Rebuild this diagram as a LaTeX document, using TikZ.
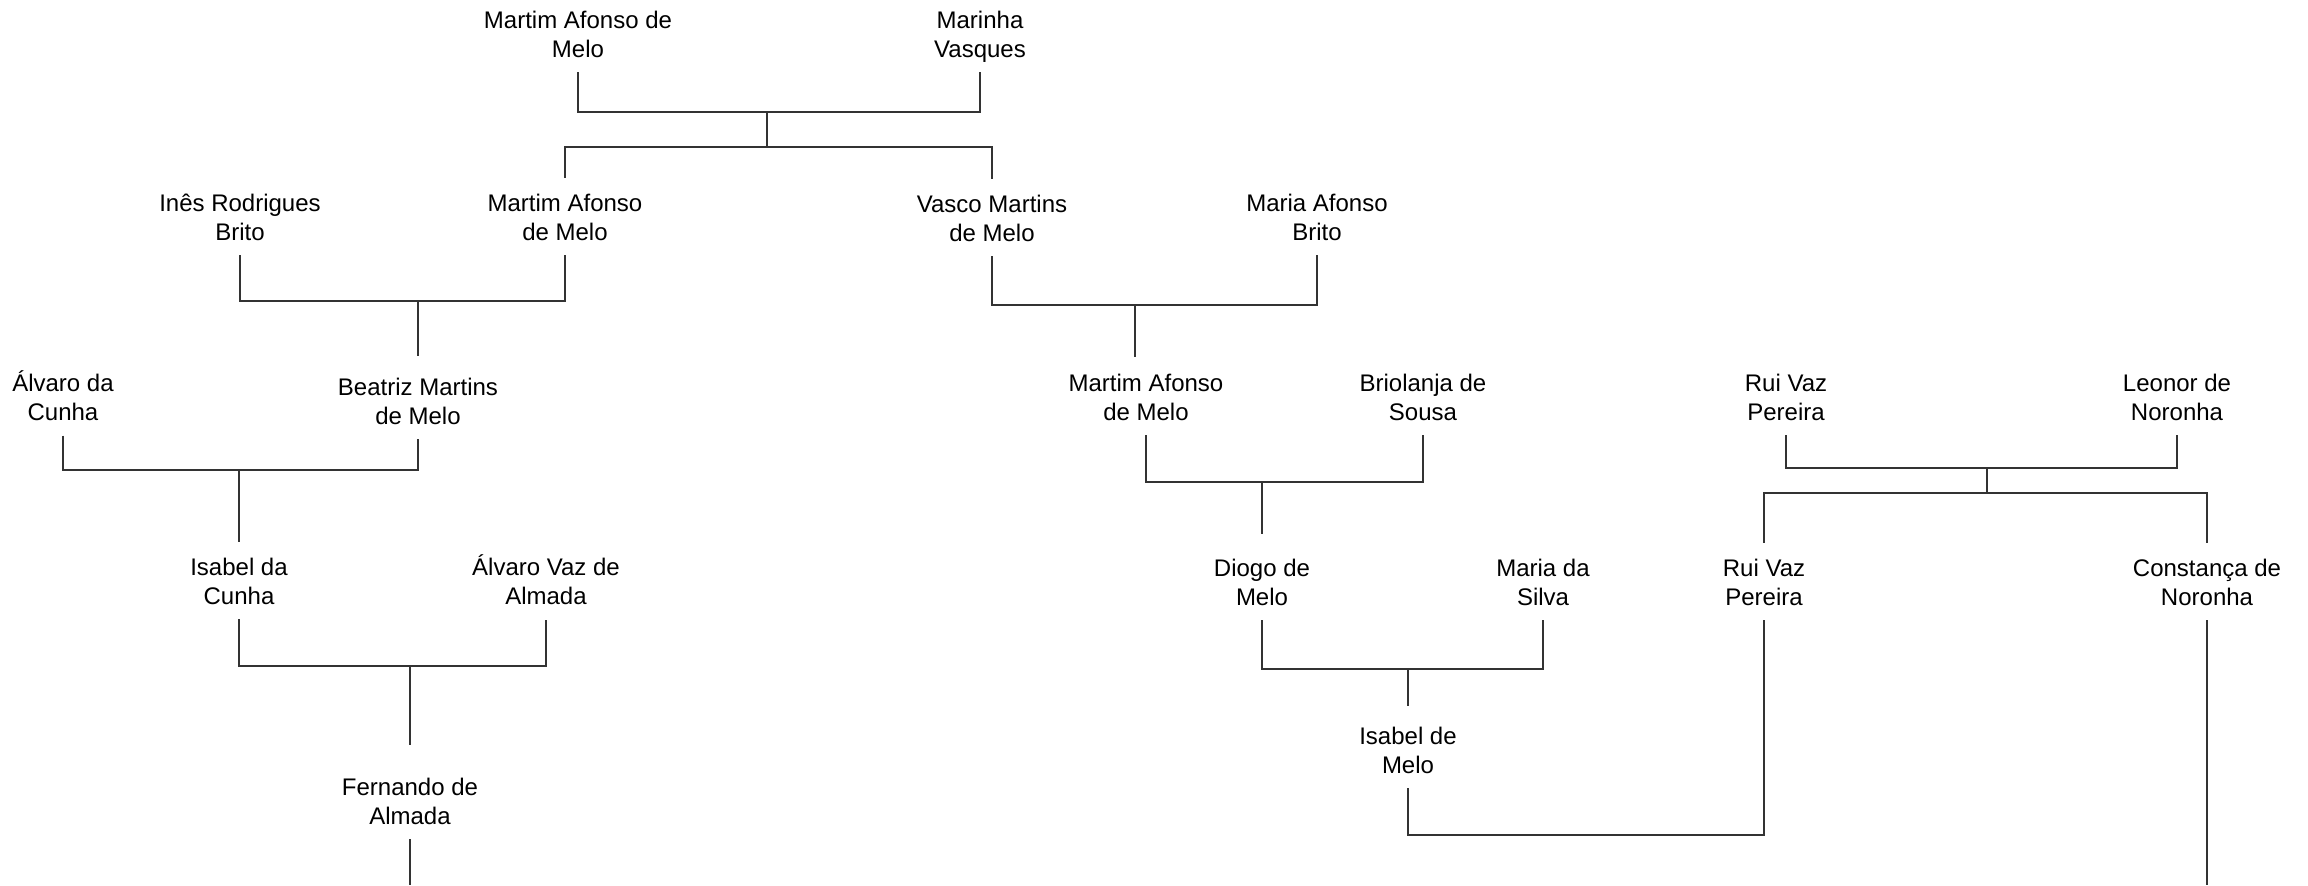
\documentclass[tikz,border=0pt]{standalone}
\usepackage{fontspec}
\setmainfont{Liberation Sans}
\newcommand\twol[2]{\strut #1\\#2\strut}
\begin{document}
\begin{tikzpicture}[x=0.5pt,y=-0.5pt,
  person/.style={align=center,inner sep=0pt,font=\fontsize{12}{14.4}\selectfont},
  link/.style={line width=0.65pt,black!80},
  cpl/.style={link,shorten <=3pt,shorten >=3pt}]
\path[use as bounding box,fill=white] (0,0) rectangle (2308,885);
% people
\node[person] (n1) at (578,37) {\twol{Martim Afonso de}{Melo}};
\node[person] (n2) at (980,37) {\twol{Marinha}{Vasques}};
\node[person] (n3) at (240,220) {\twol{Inês Rodrigues}{Brito}};
\node[person] (n4) at (565,220) {\twol{Martim Afonso}{de Melo}};
\node[person] (n5) at (992,221) {\twol{Vasco Martins}{de Melo}};
\node[person] (n6) at (1317,220) {\twol{Maria Afonso}{Brito}};
\node[person] (n7) at (63,400) {\twol{Álvaro da}{Cunha}};
\node[person] (n8) at (418,404) {\twol{Beatriz Martins}{de Melo}};
\node[person] (n9) at (1146,400) {\twol{Martim Afonso}{de Melo}};
\node[person] (n10) at (1423,400) {\twol{Briolanja de}{Sousa}};
\node[person] (n11) at (1786,400) {\twol{Rui Vaz}{Pereira}};
\node[person] (n12) at (2177,400) {\twol{Leonor de}{Noronha}};
\node[person] (n13) at (239,584) {\twol{Isabel da}{Cunha}};
\node[person] (n14) at (546,584) {\twol{Álvaro Vaz de}{Almada}};
\node[person] (n15) at (1262,585) {\twol{Diogo de}{Melo}};
\node[person] (n16) at (1543,585) {\twol{Maria da}{Silva}};
\node[person] (n17) at (1764,585) {\twol{Rui Vaz}{Pereira}};
\node[person] (n18) at (2207,585) {\twol{Constança de}{Noronha}};
\node[person] (n19) at (410,804) {\twol{Fernando de}{Almada}};
\node[person] (n20) at (1408,753) {\twol{Isabel de}{Melo}};
% junctions
\coordinate (h1) at (767,112);
\coordinate (h1b) at (767,147);
\coordinate (h2) at (418,301);
\coordinate (h3) at (1135,305);
\coordinate (h4) at (239,470);
\coordinate (h5) at (1262,482);
\coordinate (h6) at (1987,468);
\coordinate (h6b) at (1987,493);
\coordinate (h7) at (410,666);
\coordinate (h8) at (1408,669);
\coordinate (h9) at (1586,835);
\coordinate (e1) at (410,885);
\coordinate (e2) at (2207,885);
% couple 1
\draw[cpl] (n1.south) |- (h1) -| (n2.south);
\draw[link] (h1) -- (h1b);
\draw[link,shorten <=6.5pt,shorten >=6.5pt] (n4.north) |- (h1b) -| (n5.north);
% couple 2
\draw[cpl] (n3.south) |- (h2) -| (n4.south);
\draw[link,shorten >=9.5pt] (h2) -- (n8.north);
% couple 3
\draw[cpl] (n5.south) |- (h3) -| (n6.south);
\draw[link,shorten >=7pt] (h3) -- (h3 |- n9.north);
% couple 4
\draw[cpl] (n7.south) |- (h4) -| (n8.south);
\draw[link,shorten >=6.5pt] (h4) -- (n13.north);
% couple 5
\draw[cpl] (n9.south) |- (h5) -| (n10.south);
\draw[link,shorten >=11pt] (h5) -- (n15.north);
% couple 6
\draw[cpl] (n11.south) |- (h6) -| (n12.south);
\draw[link] (h6) -- (h6b);
\draw[link,shorten <=6.5pt,shorten >=6.5pt] (n17.north) |- (h6b) -| (n18.north);
% couple 7
\draw[cpl] (n13.south) |- (h7) -| (n14.south);
\draw[link,shorten >=15pt] (h7) -- (n19.north);
% couple 8
\draw[cpl] (n15.south) |- (h8) -| (n16.south);
\draw[link,shorten >=9pt] (h8) -- (n20.north);
% couple 9
\draw[cpl] (n20.south) |- (h9) -| (n17.south);
% descents
\draw[link,shorten <=3pt] (n19.south) -- (e1);
\draw[link,shorten <=3pt] (n18.south) -- (e2);
\end{tikzpicture}
\end{document}
